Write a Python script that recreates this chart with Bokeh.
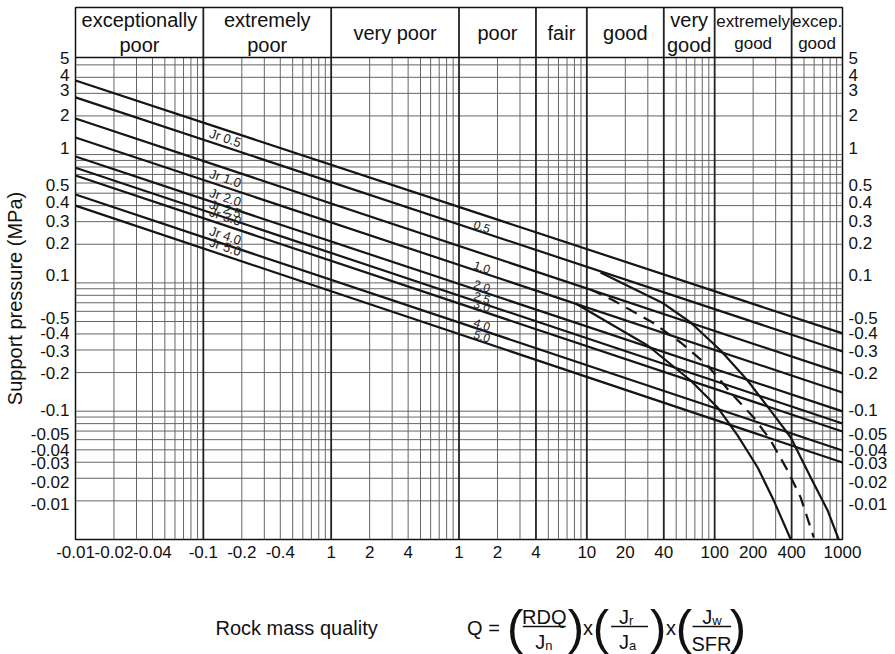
import numpy as np
from bokeh.plotting import figure
from bokeh.layouts import column
from bokeh.models import (LogAxis, FixedTicker, CustomJSTickFormatter, Range1d, ColumnDataSource)
from bokeh.core.properties import value
from bokeh.embed import file_html
from bokeh.resources import INLINE

# ------------------------------------------------------------------ data
q_ticks = [0.001, 0.002, 0.004, 0.01, 0.02, 0.04, 0.1, 0.2, 0.4,
           1, 2, 4, 10, 20, 40, 100, 200, 400, 1000]
q_tick_labels = ["-0.01", "-0.02", "-0.04", "-0.1", "-0.2", "-0.4", "1", "2", "4",
                 "1", "2", "4", "10", "20", "40", "100", "200", "400", "1000"]

p_ticks = [5.7, 4.14, 3.16, 2.02, 1.12, 0.574, 0.424, 0.306, 0.203, 0.116,
           0.0537, 0.0410, 0.0292, 0.0197, 0.0103, 0.0067, 0.00502, 0.00398, 0.00283, 0.00188]
p_tick_labels = ["5", "4", "3", "2", "1", "0.5", "0.4", "0.3", "0.2", "0.1",
                 "-0.5", "-0.4", "-0.3", "-0.2", "-0.1", "-0.05", "-0.04", "-0.03", "-0.02", "-0.01"]

quality_classes = ["exceptionally\npoor", "extremely\npoor", "very poor", "poor", "fair",
                   "good", "very\ngood", "extremely\ngood", "excep.\ngood"]
class_bounds = [0.001, 0.01, 0.1, 1, 4, 10, 40, 100, 400, 1000]

# support-pressure lines: pressure at Q = 0.001 and at Q = 1000
jr_labels = ["", "0.5", "", "1.0", "2.0", "2.5", "3.0", "4.0", "5.0"]
p_at_q_min = [3.78, 2.79, 1.91, 1.36, 0.966, 0.79, 0.687, 0.488, 0.40]
p_at_q_max = [0.0404, 0.0292, 0.0197, 0.0140, 0.00996, 0.00802, 0.00695, 0.00494, 0.00398]
q_min, q_max = 0.001, 1000.0

# curved branches
curve_a_q = [8.17, 29.9, 64.9, 105.4, 151, 217, 290, 394]
curve_a_p = [0.069, 0.0325, 0.01734, 0.01069, 0.00648, 0.00364, 0.00201, 0.001]
curve_b_q = [12.8, 39.9, 64.9, 111.4, 181, 274, 394, 564, 766, 934]
curve_b_p = [0.1205, 0.069, 0.0491, 0.0297, 0.01734, 0.0101, 0.00624, 0.00304, 0.00168, 0.001]
curve_c_q = [10.7, 16.2, 32.7, 54.2, 88.1, 133, 202, 274, 372, 471, 596]
curve_c_p = [0.0889, 0.0729, 0.0491, 0.0343, 0.0227, 0.0140, 0.00893, 0.00592, 0.00345, 0.00212, 0.00104]

grid_top = 5.7      # top of the grid / bottom of the class header
frame_top = 14.0    # top of the header box

# ------------------------------------------------------------------ main figure
FONT = "Liberation Sans"
W = 895
H_MAIN = 569
ML, MR, MT, MB = 75, 53, 7, 30

p = figure(width=W, height=H_MAIN, x_axis_type="log", y_axis_type="log",
           x_range=Range1d(q_min, q_max), y_range=Range1d(0.001, frame_top),
           output_backend="svg", toolbar_location=None,
           min_border_left=ML, min_border_right=MR, min_border_top=MT, min_border_bottom=MB)
p.xgrid.visible = False
p.ygrid.visible = False
p.outline_line_color = "#111111"
p.outline_line_width = 1.5
p.background_fill_color = "white"
p.border_fill_color = "white"

fmt_code = """
let best = 0, bd = Infinity;
for (let i = 0; i < tvals.length; i++) {
  const d = Math.abs(Math.log(tvals[i]) - Math.log(tick));
  if (d < bd) { bd = d; best = i; }
}
return tlabs[best];
"""

def style_axis(ax, ticks, labels):
    ax.ticker = FixedTicker(ticks=ticks)
    ax.formatter = CustomJSTickFormatter(args=dict(tvals=ticks, tlabs=labels), code=fmt_code)
    ax.major_tick_line_color = None
    ax.minor_tick_line_color = None
    ax.major_tick_out = 0
    ax.major_tick_in = 0
    ax.axis_line_color = None
    ax.major_label_text_font = FONT
    ax.major_label_text_font_size = "17px"
    ax.major_label_text_color = "#111111"
    ax.major_label_standoff = 6

style_axis(p.xaxis[0], q_ticks, q_tick_labels)
style_axis(p.yaxis[0], p_ticks, p_tick_labels)
# label centred on the grid part (below the header): padded at its upper end
p.yaxis[0].axis_label = "Support pressure (MPa)" + "\u00a0" * 9
p.yaxis[0].axis_label_text_font = FONT
p.yaxis[0].axis_label_text_font_size = "20px"
p.yaxis[0].axis_label_text_font_style = "normal"
p.yaxis[0].axis_label_text_color = "#111111"
p.yaxis[0].axis_label_standoff = 2
right_axis = LogAxis()
style_axis(right_axis, p_ticks, p_tick_labels)
p.add_layout(right_axis, "right")

# ------------------------------------------------------------------ grid
vx = []
for n in range(-3, 3):
    for k in range(1, 10):
        q = k * 10.0 ** n
        if any(abs(q - b) / b < 1e-9 for b in class_bounds):
            continue
        vx.append(q)
p.segment(x0=vx, y0=[0.001] * len(vx), x1=vx, y1=[grid_top] * len(vx),
          line_color="#666666", line_width=1)

hy = []
for n in range(-3, 1):
    for k in range(1, 10):
        v = k * 10.0 ** n
        if 0.001 < v < grid_top:
            hy.append(v)
p.segment(x0=[q_min] * len(hy), y0=hy, x1=[q_max] * len(hy), y1=hy,
          line_color="#666666", line_width=1)

inner_bounds = class_bounds[1:-1]
p.segment(x0=inner_bounds, y0=[0.001] * len(inner_bounds), x1=inner_bounds,
          y1=[frame_top] * len(inner_bounds), line_color="#222222", line_width=1.8)
p.segment(x0=[q_min], y0=[grid_top], x1=[q_max], y1=[grid_top],
          line_color="#111111", line_width=1.5)

# class header texts
hdr_sizes = ["20px"] * 7 + ["17px", "17px"]
centers = [float(np.sqrt(a * b)) for a, b in zip(class_bounds[:-1], class_bounds[1:])]
hsrc = ColumnDataSource(dict(x=centers, y=[float(np.sqrt(grid_top * frame_top))] * len(centers),
                             t=quality_classes, fs=hdr_sizes))
p.text(x="x", y="y", text="t", source=hsrc, text_align="center", text_baseline="middle",
       text_font=value(FONT), text_font_size="fs", text_color="#111111", text_line_height=1.15)

# ------------------------------------------------------------------ support lines
for a, b in zip(p_at_q_min, p_at_q_max):
    p.line(x=[q_min, q_max], y=[a, b], line_color="#151515", line_width=2.2)

p.line(x=curve_a_q, y=curve_a_p, line_color="#151515", line_width=2.2)
p.line(x=curve_b_q, y=curve_b_p, line_color="#151515", line_width=2.2)
p.line(x=curve_c_q, y=curve_c_p, line_color="#151515", line_width=2.2, line_dash="12 8")

# line labels (rotated along the lines)
frame_w = W - ML - MR
frame_h = H_MAIN - MT - MB
px_dec_x = frame_w / (np.log10(q_max) - np.log10(q_min))
px_dec_y = frame_h / (np.log10(frame_top) - np.log10(0.001))

def p_on_line(i, q):
    la, lb = np.log10(p_at_q_min[i]), np.log10(p_at_q_max[i])
    t = (np.log10(q) - np.log10(q_min)) / (np.log10(q_max) - np.log10(q_min))
    return float(10 ** (la + t * (lb - la)))

lx1, ly1, lt1, ang1 = [], [], [], []
lx2, ly2, lt2, ang2 = [], [], [], []
for i, lab_ in enumerate(jr_labels):
    if not lab_:
        continue
    slope = (np.log10(p_at_q_max[i]) - np.log10(p_at_q_min[i])) / (np.log10(q_max) - np.log10(q_min))
    ang = float(np.arctan(slope * px_dec_y / px_dec_x))
    q1 = 0.0108
    lx1.append(q1); ly1.append(p_on_line(i, q1)); lt1.append("Jr " + lab_); ang1.append(ang)
    q2 = 1.28
    lx2.append(q2); ly2.append(p_on_line(i, q2)); lt2.append(lab_); ang2.append(ang)

p.text(x=lx1, y=ly1, text=lt1, angle=ang1, text_align="left", text_baseline="bottom",
       y_offset=-1, text_font=value(FONT), text_font_size="13px", text_color="#222222")
p.text(x=lx2, y=ly2, text=lt2, angle=ang2, text_align="left", text_baseline="bottom",
       y_offset=-1, text_font=value(FONT), text_font_size="12px", text_color="#222222")

# ------------------------------------------------------------------ caption strip with formula
H_CAP = 85
c = figure(width=W, height=H_CAP, x_range=Range1d(0, W), y_range=Range1d(H_CAP, 0),
           output_backend="svg", toolbar_location=None, x_axis_location=None,
           y_axis_location=None, min_border=0)
c.xgrid.visible = False
c.ygrid.visible = False
c.outline_line_color = None
c.background_fill_color = "white"
c.border_fill_color = "white"

def ctext(items, size="20px", align="center", baseline="middle"):
    xs = [it[1] for it in items]
    ys = [it[2] for it in items]
    ts = [it[0] for it in items]
    c.text(x=xs, y=ys, text=ts, text_align=align, text_baseline=baseline,
           text_font=value(FONT), text_font_size=size, text_color="#111111")

ctext([("Rock mass quality", 258, 58), ("Q =", 476, 58), ("x", 598, 58), ("x", 695, 58),
       ("RDQ", 547, 47), ("SFR", 742, 74)])
ctext([("(", 513, 57), ("(", 613, 57), ("(", 710, 57),
       (")", 584, 57), (")", 680, 57), (")", 773, 57)], size="49px")
ctext([("J", 548, 72), ("J", 646, 47), ("J", 646, 72), ("J", 743, 47)], align="right")
ctext([("n", 548, 76), ("r", 646, 51), ("a", 646, 76), ("w", 743, 51)], size="13px", align="left")
c.segment(x0=[522, 625, 720], y0=[57, 57, 57], x1=[572, 668, 765], y1=[57, 57, 57],
          line_color="#111111", line_width=1.4)

layout = column(p, c, spacing=0)
open("out.html", "w").write(file_html(layout, INLINE))
